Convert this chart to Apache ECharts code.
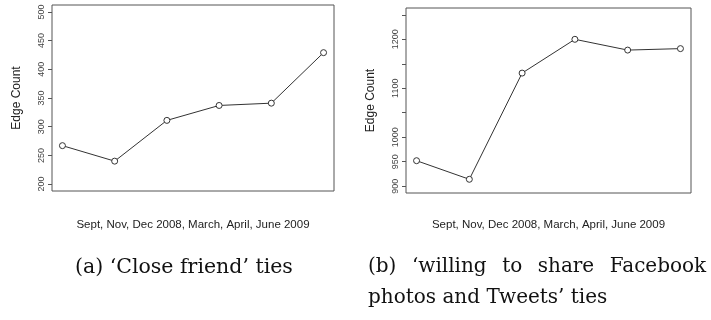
<!DOCTYPE html>
<html>
<head>
<meta charset="utf-8">
<script src="https://cdn.jsdelivr.net/npm/echarts@6/dist/echarts.min.js"></script>
<style>
  html, body { margin: 0; padding: 0; background: #fff; }
  #chart { width: 711px; height: 320px; }
</style>
</head>
<body>
<div id="chart"></div>
<script>
// Survey waves (x positions 1..6)
const months = ['Sept 2008', 'Nov 2008', 'Dec 2008', 'March 2009', 'April 2009', 'June 2009'];
// Edge counts per wave
const closeFriendEdges = [267, 240, 311, 337, 341, 429];
const shareFacebookEdges = [952, 914, 1131, 1200, 1178, 1181];
// Tick values and the labels printed beside them
const closeTicks = [200, 250, 300, 350, 400, 450, 500];
const closeLabels = [200, 250, 300, 350, 400, 450, 500];
const shareTicks = [900, 950, 1000, 1050, 1100, 1150, 1200, 1250];
const shareLabels = [900, 950, 1000, 1100, 1200];
const xTitle = 'Sept, Nov, Dec 2008, March, April, June 2009';
const captionA = '(a) ‘Close friend’ ties';
const captionBLine1 = ['(b)', '‘willing', 'to', 'share', 'Facebook'];
const captionBLine2 = 'photos and Tweets’ ties';

const ink = '#333';
const boxColor = '#555';
const serif = 'DejaVu Serif';

function points(values) {
  return values.map((v, i) => [i + 1, v]);
}

function yAxisFor(gridIndex, min, max, ticks, labels) {
  return {
    type: 'value', gridIndex, min, max,
    name: 'Edge Count', nameLocation: 'middle', nameRotate: 90, nameGap: 29,
    nameTextStyle: { fontFamily: 'Liberation Sans', fontSize: 12, color: '#222' },
    axisLine: { show: false },
    splitLine: { show: false },
    axisTick: { show: true, length: 4, customValues: ticks, lineStyle: { color: boxColor } },
    axisLabel: {
      customValues: labels, rotate: 90, margin: 6,
      formatter: v => String(v),
      fontFamily: 'Liberation Sans', fontSize: 9, color: '#444'
    }
  };
}

function xAxisFor(gridIndex, gap) {
  return {
    type: 'value', gridIndex, min: 0.8, max: 6.2,
    name: xTitle, nameLocation: 'middle', nameGap: gap,
    nameTextStyle: { fontFamily: 'Liberation Sans', fontSize: 11.5, color: '#222' },
    axisLine: { show: false }, axisTick: { show: false },
    axisLabel: { show: false }, splitLine: { show: false }
  };
}

function lineSeries(idx, values) {
  return {
    type: 'line', xAxisIndex: idx, yAxisIndex: idx,
    data: points(values),
    symbol: 'circle', symbolSize: 6,
    itemStyle: { color: '#fff', borderColor: ink, borderWidth: 1 },
    lineStyle: { color: ink, width: 1 },
    emphasis: { disabled: true },
    animation: false
  };
}

// Justified first caption line: words joined by fixed-width gaps
const justifiedLine = captionBLine1.join('{gap| }');

const chart = echarts.init(document.getElementById('chart'), null, { renderer: 'canvas' });
chart.setOption({
  backgroundColor: '#fff',
  animation: false,
  grid: [
    { left: 52, top: 5, width: 282, height: 186, show: true, borderColor: boxColor, borderWidth: 1, backgroundColor: 'transparent' },
    { left: 406, top: 8, width: 285, height: 185, show: true, borderColor: boxColor, borderWidth: 1, backgroundColor: 'transparent' }
  ],
  xAxis: [xAxisFor(0, 28), xAxisFor(1, 26)],
  yAxis: [
    yAxisFor(0, 188, 512, closeTicks, closeLabels),
    yAxisFor(1, 886, 1264, shareTicks, shareLabels)
  ],
  title: [
    { text: captionA, left: 70, top: 252,
      textStyle: { fontFamily: serif, fontSize: 20.5, fontWeight: 'normal', color: '#111' } },
    { text: justifiedLine + '\n' + captionBLine2, left: 363, top: 246,
      textStyle: {
        fontFamily: serif, fontSize: 20, fontWeight: 'normal', color: '#111', lineHeight: 31,
        rich: { gap: { width: 15.5, fontFamily: serif, fontSize: 20, lineHeight: 31 } }
      } }
  ],
  series: [
    lineSeries(0, closeFriendEdges),
    lineSeries(1, shareFacebookEdges)
  ]
});
</script>
</body>
</html>
